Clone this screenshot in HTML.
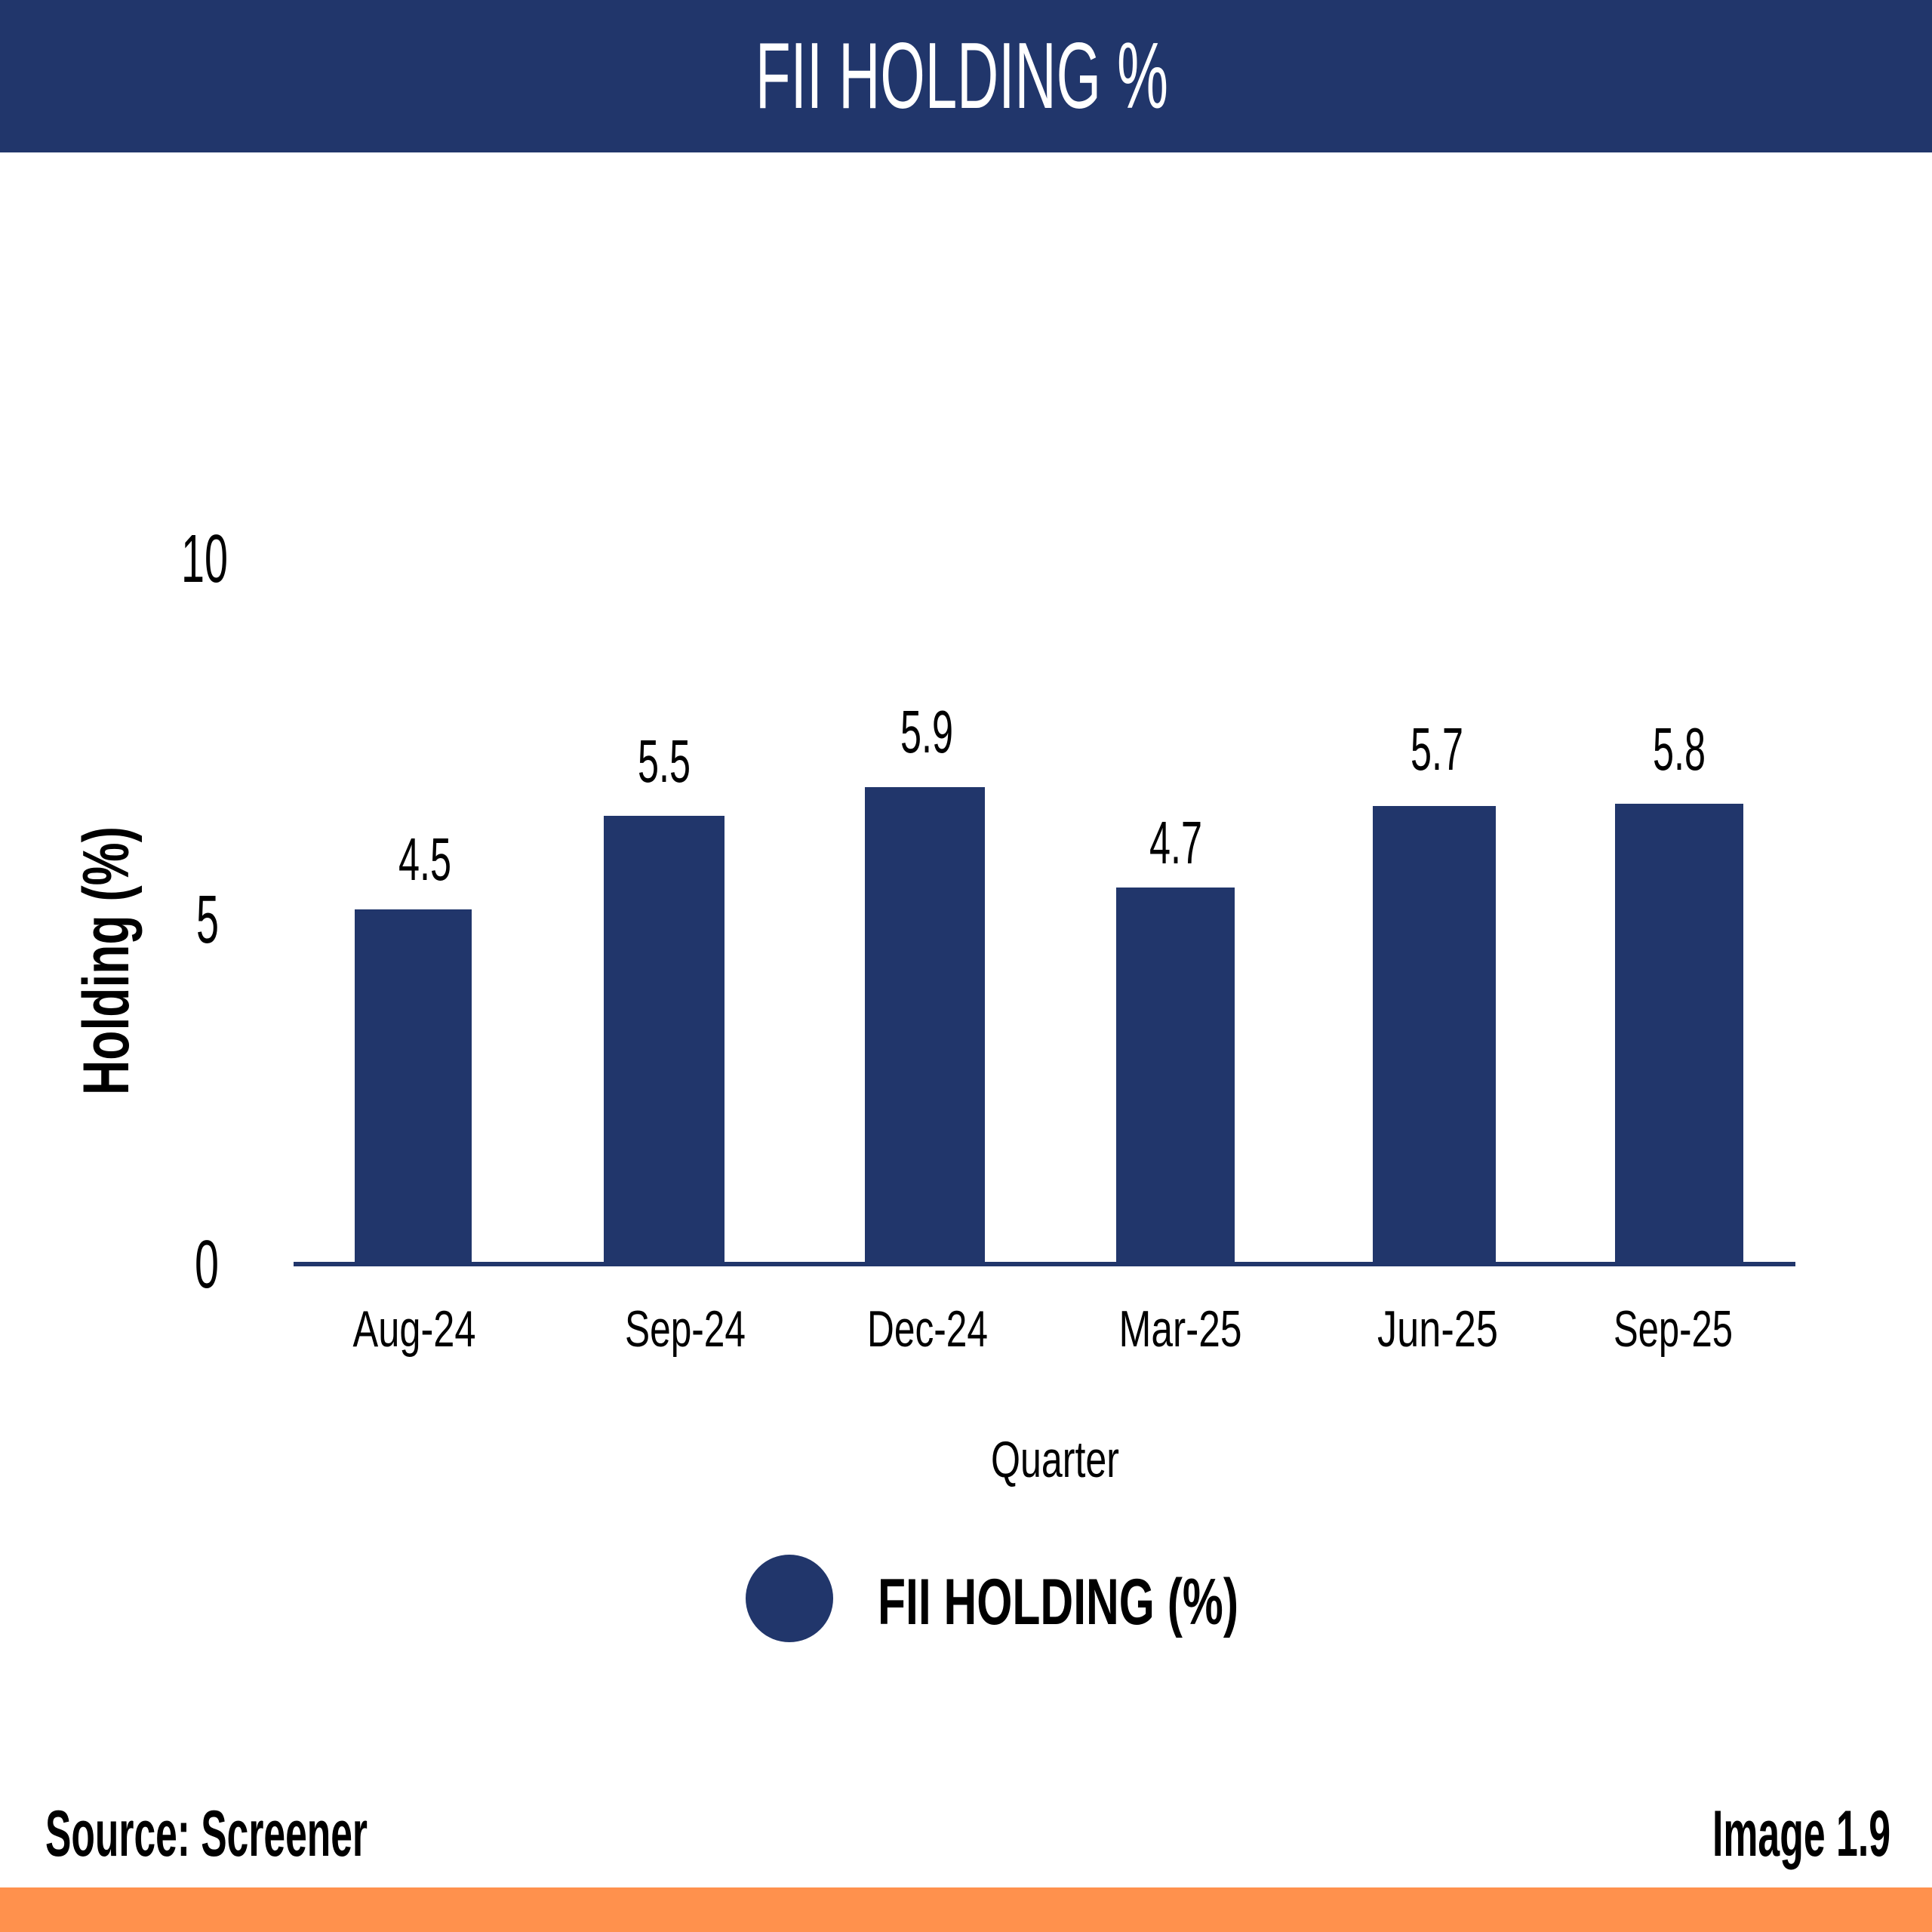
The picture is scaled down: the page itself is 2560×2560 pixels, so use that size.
<!DOCTYPE html>
<html><head><meta charset="utf-8"><style>
html,body{margin:0;padding:0;background:#fff}
svg{display:block}
text{font-family:"Liberation Sans Narrow","Liberation Sans",sans-serif}
</style></head><body>
<svg width="2560" height="2560" viewBox="0 0 2560 2560" xmlns="http://www.w3.org/2000/svg">
<rect x="0" y="0" width="2560" height="202" fill="#21366b"/>
<text x="1001" y="143" font-size="124" fill="#fff" textLength="547" lengthAdjust="spacingAndGlyphs">FII HOLDING %</text>
<rect x="0" y="2501" width="2560" height="59" fill="#ff914d"/>

<g fill="#21366b">
<rect x="470" y="1205" width="155" height="470"/>
<rect x="800" y="1081" width="160" height="594"/>
<rect x="1146" y="1043" width="159" height="632"/>
<rect x="1479" y="1176" width="157" height="499"/>
<rect x="1819" y="1068" width="163" height="607"/>
<rect x="2140" y="1065" width="170" height="610"/>
<rect x="389" y="1672" width="1990" height="6"/>
<circle cx="1046" cy="2118" r="58"/>
</g>

<g font-size="90" fill="#000" text-anchor="end">
<text x="302" y="771" textLength="62" lengthAdjust="spacingAndGlyphs">10</text>
<text x="290" y="1249" textLength="30" lengthAdjust="spacingAndGlyphs">5</text>
<text x="290" y="1706" textLength="32" lengthAdjust="spacingAndGlyphs">0</text>
</g>

<g font-size="80" fill="#000" text-anchor="middle">
<text x="563" y="1166" textLength="70" lengthAdjust="spacingAndGlyphs">4.5</text>
<text x="880" y="1036" textLength="70" lengthAdjust="spacingAndGlyphs">5.5</text>
<text x="1228" y="997" textLength="70" lengthAdjust="spacingAndGlyphs">5.9</text>
<text x="1558" y="1144" textLength="70" lengthAdjust="spacingAndGlyphs">4.7</text>
<text x="1904" y="1020" textLength="70" lengthAdjust="spacingAndGlyphs">5.7</text>
<text x="2225" y="1020" textLength="70" lengthAdjust="spacingAndGlyphs">5.8</text>
</g>

<g font-size="68" fill="#000" text-anchor="middle">
<text x="549" y="1784" textLength="163" lengthAdjust="spacingAndGlyphs">Aug-24</text>
<text x="908" y="1784" textLength="160" lengthAdjust="spacingAndGlyphs">Sep-24</text>
<text x="1229" y="1784" textLength="160" lengthAdjust="spacingAndGlyphs">Dec-24</text>
<text x="1564" y="1784" textLength="163" lengthAdjust="spacingAndGlyphs">Mar-25</text>
<text x="1905" y="1784" textLength="160" lengthAdjust="spacingAndGlyphs">Jun-25</text>
<text x="2217" y="1784" textLength="158" lengthAdjust="spacingAndGlyphs">Sep-25</text>
<text x="1398" y="1957" textLength="170" lengthAdjust="spacingAndGlyphs">Quarter</text>
</g>

<text transform="translate(170,1273) rotate(-90)" font-size="86" font-weight="bold" fill="#000" text-anchor="middle" textLength="356" lengthAdjust="spacingAndGlyphs">Holding (%)</text>

<text x="1163" y="2152" font-size="86" font-weight="bold" fill="#000" textLength="478" lengthAdjust="spacingAndGlyphs">FII HOLDING (%)</text>

<text x="60" y="2459" font-size="86" font-weight="bold" fill="#000" textLength="427" lengthAdjust="spacingAndGlyphs">Source: Screener</text>
<text x="2269" y="2459" font-size="86" font-weight="bold" fill="#000" textLength="236" lengthAdjust="spacingAndGlyphs">Image 1.9</text>
</svg>
</body></html>
